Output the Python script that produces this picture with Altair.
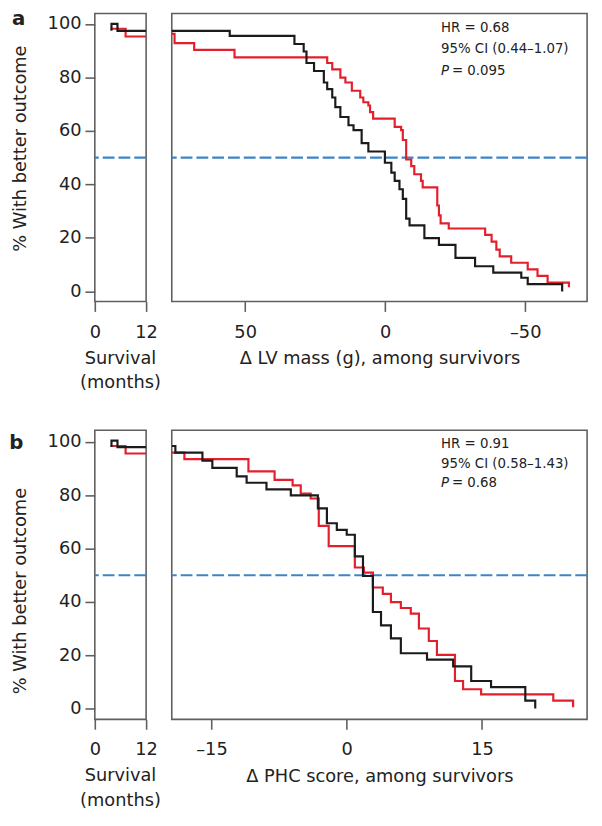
import altair as alt
import pandas as pd

FONT = "DejaVu Sans"
RED = "#e41f2d"
BLACK = "#1b1b1b"
BLUE = "#3d85c6"
FRAME = "#5f5f5f"

# ---------------- data ----------------
# Panel a: survival (months)
surv_a_black_x = [3.9, 3.9, 5.3, 12]
surv_a_black_y = [97.4, 100, 97.4, 97.4]
surv_a_red_x = [3.7, 7.2, 12]
surv_a_red_y = [98.2, 95.3, 95.3]

# Panel a: delta LV mass (g)
lv_black_x = [76.2, 55.5, 32.4, 29.1, 28.1, 25.4, 21.9, 20.7, 18.9, 17.8, 16.0, 13.1, 11.3, 8.4, 6.0,
              0.1, -2.2, -3.4, -5.1, -6.3, -7.5, -8.7, -14.0, -19.2, -25.1, -32.1, -38.6, -48.6, -50.9, -63.2]
lv_black_y = [97.4, 95.5, 92.5, 89.7, 85.4, 82.4, 78.1, 75.6, 72.5, 68.9, 65.2, 62.1, 60.3, 55.4, 52.3,
              48.1, 44.4, 41.3, 38.2, 34.6, 27.2, 24.7, 19.9, 17.4, 12.5, 9.4, 7.0, 5.1, 2.7, 0.0]
lv_red_x = [76.2, 75.2, 68.2, 53.8, 20.7, 18.9, 16.0, 14.2, 11.9, 8.9, 7.8, 6.0, 5.4, 4.3, -3.4, -5.7,
            -6.3, -7.5, -9.3, -10.4, -12.8, -13.4, -18.6, -19.2, -19.8, -22.7, -35.7, -38.0, -39.7, -40.9,
            -45.0, -50.9, -54.4, -58.0, -65.6, -65.6]
lv_red_y = [96.3, 92.8, 90.3, 87.5, 85.4, 83.0, 79.9, 78.1, 75.0, 72.5, 70.7, 69.5, 67.0, 64.6, 61.5, 60.3,
            56.6, 49.3, 46.8, 43.8, 41.3, 38.9, 32.1, 28.4, 25.4, 23.5, 21.1, 18.6, 15.6, 13.1,
            10.7, 8.2, 5.8, 3.3, 3.3, 1.5]

# Panel b: survival (months)
surv_b_black_x = [3.9, 3.9, 5.3, 12]
surv_b_black_y = [98.1, 100.5, 98.1, 98.1]
surv_b_red_x = [3.7, 7.2, 12]
surv_b_red_y = [98.5, 95.7, 95.7]

# Panel b: delta PHC score
phc_black_x = [-19.4, -19.0, -16.0, -14.9, -12.2, -11.1, -8.9, -6.2, -3.2, -2.2, -1.1, 0.0, 0.9, 1.8,
               2.9, 3.8, 4.9, 6.0, 8.9, 11.8, 13.8, 16.0, 19.8, 20.9]
phc_black_y = [98.5, 96.0, 93.0, 90.3, 87.1, 84.7, 82.2, 80.0, 75.1, 69.5, 67.0, 65.2, 57.1, 49.7,
               36.2, 31.2, 26.3, 20.7, 18.3, 15.8, 10.3, 8.0, 2.9, 0.0]
phc_red_x = [-19.4, -18.0, -10.9, -8.0, -6.0, -5.1, -4.0, -3.1, -2.0, 0.9, 1.9, 2.9, 4.0, 4.9, 6.0,
             7.1, 8.0, 9.1, 10.0, 12.0, 12.9, 14.9, 22.9, 25.1, 25.1]
phc_red_y = [96.0, 93.6, 89.0, 85.8, 83.7, 80.6, 78.8, 68.5, 60.9, 52.9, 51.0, 45.4, 43.0, 39.9, 37.7,
             35.6, 30.0, 25.3, 20.1, 10.3, 7.2, 5.3, 2.9, 2.9, 0.4]

ref_line = [50]
y_ticks = [0, 20, 40, 60, 80, 100]
surv_ticks = [0, 12]
lv_ticks = [-50, 0, 50]
phc_ticks = [-15, 0, 15]

stats_a = ["HR = 0.68", "95% CI (0.44\u20131.07)", "= 0.095"]
stats_b = ["HR = 0.91", "95% CI (0.58\u20131.43)", "= 0.68"]

y_title = "% With better outcome"
surv_title = ["Survival", "(months)"]
lv_title = "\u0394 LV mass (g), among survivors"
phc_title = "\u0394 PHC score, among survivors"

LABEL_SIZE = 18
TITLE_SIZE = 18


def steps(xs, ys):
    return pd.DataFrame({"x": xs, "y": ys, "o": list(range(len(xs)))})


def curve_layers(black_df, red_df, xsc, ysc, xaxis, yaxis):
    red = alt.Chart(red_df).mark_line(interpolate="step-after", strokeWidth=2.2, color=RED, clip=True).encode(
        x=alt.X("x:Q", scale=xsc, axis=xaxis),
        y=alt.Y("y:Q", scale=ysc, axis=yaxis),
        order="o:Q",
    )
    black = alt.Chart(black_df).mark_line(interpolate="step-after", strokeWidth=2.2, color=BLACK, clip=True).encode(
        x=alt.X("x:Q", scale=xsc, axis=xaxis),
        y=alt.Y("y:Q", scale=ysc, axis=yaxis),
        order="o:Q",
    )
    rule = alt.Chart(pd.DataFrame({"y": ref_line})).mark_rule(
        color=BLUE, strokeWidth=2.2, strokeDash=[12, 4]).encode(y=alt.Y("y:Q", scale=ysc, axis=yaxis))
    return rule, red, black


def label_mark(text, x, y, size, align="left", **kw):
    return alt.Chart(pd.DataFrame({"t": [text]})).mark_text(
        font=FONT, fontSize=size, align=align, color="#222", **kw
    ).encode(text="t:N", x=alt.value(x), y=alt.value(y))


def small_panel(bx, by, rx, ry, ydom, height, letter, lx, ly, title_y):
    xsc = alt.Scale(domain=[0, 12], nice=False, zero=False)
    ysc = alt.Scale(domain=ydom, nice=False, zero=False)
    xaxis = alt.Axis(values=surv_ticks, title=None, grid=False, domain=False,
                     tickSize=10, labelPadding=12, labelFlush=False)
    yaxis = alt.Axis(values=y_ticks, title=y_title, grid=False, domain=False,
                     tickSize=10, labelPadding=4, titleAngle=270, titleAlign="center",
                     titleBaseline="middle", titleX=-75, titleY=title_y)
    rule, red, black = curve_layers(steps(bx, by), steps(rx, ry), xsc, ysc, xaxis, yaxis)
    let = label_mark(letter, lx, ly, 20, fontWeight="bold", baseline="alphabetic")
    s1 = label_mark(surv_title[0], 26, height + 58, TITLE_SIZE, align="center", baseline="middle")
    s2 = label_mark(surv_title[1], 26, height + 83, TITLE_SIZE, align="center", baseline="middle")
    return alt.layer(rule, red, black, let, s1, s2).properties(width=52, height=height)


def big_panel(bx, by, rx, ry, xdom, rev, ticks, title, ydom, height, stats, ys):
    xsc = alt.Scale(domain=xdom, nice=False, zero=False, reverse=rev)
    ysc = alt.Scale(domain=ydom, nice=False, zero=False)
    xaxis = alt.Axis(values=ticks, title=title, grid=False, domain=False, tickSize=10, labelPadding=12,
                     titleBaseline="middle", titleY=58,
                     labelExpr="datum.value < 0 ? '\u2013' + abs(datum.value) : '' + datum.value")
    rule, red, black = curve_layers(steps(bx, by), steps(rx, ry), xsc, ysc, xaxis, None)
    t1 = label_mark(stats[0], 273, ys[0], 13.5, baseline="middle")
    t2 = label_mark(stats[1], 273, ys[1], 13.5, baseline="middle")
    p1 = label_mark("P", 273, ys[2], 13.5, baseline="middle", fontStyle="italic")
    p2 = label_mark(stats[2], 284, ys[2], 13.5, baseline="middle")
    return alt.layer(rule, red, black, t1, t2, p1, p2).properties(width=421, height=height)


ydom_a = [-3.8, 103.9]
ydom_b = [-4.1, 104.4]

small_a = small_panel(surv_a_black_x, surv_a_black_y, surv_a_red_x, surv_a_red_y, ydom_a, 292,
                      "a", -84, 11.3, 136.5)
big_a = big_panel(lv_black_x, lv_black_y, lv_red_x, lv_red_y, [-72.1, 76.2], True, lv_ticks, lv_title,
                  ydom_a, 292, stats_a, [14.7, 36.3, 58])
small_b = small_panel(surv_b_black_x, surv_b_black_y, surv_b_red_x, surv_b_red_y, ydom_b, 293,
                      "b", -86.7, 19.3, 162.5)
big_b = big_panel(phc_black_x, phc_black_y, phc_red_x, phc_red_y, [-19.4, 26.65], False, phc_ticks, phc_title,
                  ydom_b, 293, stats_b, [14.3, 34.3, 53.7])

row_a = alt.hconcat(small_a, big_a, spacing=8)
row_b = alt.hconcat(small_b, big_b, spacing=8)

chart = alt.vconcat(row_a, row_b, spacing=36.5).properties(
    padding={"left": 0, "top": -6, "right": 5, "bottom": 5}
).configure_view(stroke=FRAME, strokeWidth=1.6).configure_axis(
    labelFont=FONT, titleFont=FONT, labelFontSize=LABEL_SIZE, titleFontSize=TITLE_SIZE,
    titleFontWeight="normal", labelColor="#222", titleColor="#222", tickColor=FRAME, tickWidth=1.6
)

chart.save("out.html", embed_options={"renderer": "svg", "actions": False})
